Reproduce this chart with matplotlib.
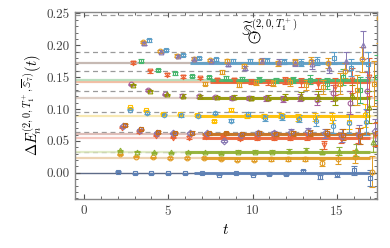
import matplotlib.pyplot as plt
import numpy as np

plt.rcParams['font.family'] = 'cmr10'
plt.rcParams['mathtext.fontset'] = 'cm'
plt.rcParams['axes.formatter.use_mathtext'] = True

# Mathematica-like palette
BLUE = '#5E81B5'
ORANGE = '#E19C24'
GREEN = '#8FB032'
RED = '#EB6235'
PURPLE = '#8778B3'
BROWN = '#C56E1A'
LBLUE = '#5D9EC7'
YELLOW = '#FFBF00'
MAGENTA = '#A5609D'
OLIVE = '#929600'
DGREEN = '#47B66D'

# --- data: effective energies per operator (t starts at t_first) ---
blue_E = [0.002, -0.001, -0.001, -0.001, -0.001, -0.001, -0.003, -0.001, -0.003, -0.002,
          -0.002, 0.003, -0.006, -0.002, 0.004, -0.008]
blue_err = [0.001, 0.001, 0.001, 0.001, 0.001, 0.001, 0.001, 0.001, 0.001, 0.002,
            0.002, 0.002, 0.003, 0.004, 0.007, 0.012]
orange_lo_E = [0.029, 0.025, 0.024, 0.023, 0.023, 0.023, 0.022, 0.020, 0.020, 0.021,
               0.022, 0.022, 0.015, 0.021, 0.025, 0.002]
orange_lo_err = [0.001, 0.001, 0.001, 0.001, 0.001, 0.001, 0.002, 0.002, 0.002, 0.002,
                 0.003, 0.003, 0.005, 0.007, 0.010, 0.025]
green_lo_E = [0.035, 0.033, 0.032, 0.032, 0.032, 0.032, 0.031, 0.033, 0.033, 0.033,
              0.034, 0.036, 0.033, 0.034, 0.036, 0.048]
green_lo_err = [0.001, 0.001, 0.001, 0.001, 0.001, 0.001, 0.002, 0.002, 0.002, 0.002,
                0.003, 0.003, 0.004, 0.006, 0.009, 0.015]
red_lo_E = [0.071, 0.064, 0.058, 0.055, 0.055, 0.056, 0.056, 0.053, 0.055, 0.055,
            0.055, 0.057, 0.044, 0.055, 0.058, 0.060]
red_lo_err = [0.001, 0.001, 0.001, 0.001, 0.002, 0.002, 0.002, 0.002, 0.003, 0.003,
              0.004, 0.005, 0.006, 0.008, 0.012, 0.018]
purple_lo_E = [0.073, 0.067, 0.063, 0.062, 0.062, 0.062, 0.050, 0.060, 0.062, 0.063,
               0.064, 0.065, 0.062, 0.058, 0.060, 0.065]
purple_lo_err = [0.001, 0.001, 0.001, 0.001, 0.002, 0.002, 0.002, 0.002, 0.003, 0.003,
                 0.004, 0.005, 0.007, 0.010, 0.015, 0.020]
brown_lo_E = [0.075, 0.068, 0.064, 0.063, 0.063, 0.062, 0.062, 0.061, 0.062, 0.061,
              0.062, 0.062, 0.063, 0.060, 0.058, 0.062]
brown_lo_err = [0.001, 0.001, 0.001, 0.001, 0.002, 0.002, 0.002, 0.002, 0.003, 0.003,
                0.004, 0.005, 0.006, 0.009, 0.013, 0.018]
yellow_E = [0.103, 0.098, 0.093, 0.092, 0.091, 0.081, 0.099, 0.089, 0.089, 0.090,
            0.087, 0.088, 0.086, 0.080, 0.090, 0.080]
yellow_err = [0.001, 0.001, 0.001, 0.001, 0.002, 0.002, 0.002, 0.003, 0.003, 0.004,
              0.005, 0.006, 0.008, 0.012, 0.018, 0.025]
lblue_mid_E = [0.099, 0.094, 0.091, 0.090, 0.089, 0.094, 0.082, 0.092, 0.086, 0.088,
               0.085, 0.082, 0.073, 0.078, 0.080, 0.090]
lblue_mid_err = [0.001, 0.001, 0.001, 0.002, 0.002, 0.002, 0.003, 0.003, 0.004, 0.005,
                 0.006, 0.008, 0.010, 0.015, 0.020, 0.030]
magenta_mid_E = [0.139, 0.130, 0.123, 0.121, 0.120, 0.119, 0.118, 0.117, 0.117, 0.116,
                 0.118, 0.115, 0.125, 0.110, 0.128]
magenta_mid_err = [0.001, 0.001, 0.001, 0.002, 0.002, 0.002, 0.003, 0.003, 0.004, 0.005,
                   0.006, 0.008, 0.012, 0.018, 0.030]
olive_mid_E = [0.138, 0.129, 0.123, 0.121, 0.120, 0.119, 0.119, 0.118, 0.118, 0.119,
               0.121, 0.120, 0.118, 0.122, 0.103]
olive_mid_err = [0.001, 0.001, 0.001, 0.002, 0.002, 0.002, 0.003, 0.003, 0.004, 0.005,
                 0.006, 0.008, 0.011, 0.016, 0.025]
red_hi_E = [0.173, 0.159, 0.154, 0.151, 0.149, 0.146, 0.145, 0.143, 0.142, 0.145,
            0.142, 0.140, 0.135, 0.145, 0.150]
red_hi_err = [0.002, 0.002, 0.002, 0.002, 0.002, 0.003, 0.003, 0.004, 0.004, 0.005,
              0.007, 0.009, 0.013, 0.020, 0.030]
green_hi_E = [0.176, 0.161, 0.156, 0.152, 0.150, 0.149, 0.147, 0.146, 0.145, 0.146,
              0.146, 0.140, 0.150, 0.130, 0.150]
green_hi_err = [0.002, 0.002, 0.002, 0.002, 0.002, 0.003, 0.003, 0.004, 0.004, 0.005,
                0.007, 0.009, 0.013, 0.020, 0.035]
orange_hi_E = [0.140, 0.158, 0.138, 0.142, 0.141, 0.142, 0.138, 0.135, 0.140, 0.130, 0.140]
orange_hi_err = [0.003, 0.003, 0.004, 0.004, 0.005, 0.006, 0.008, 0.011, 0.016, 0.024, 0.035]
orange_top_E = [0.205, 0.191, 0.184, 0.179, 0.177, 0.175, 0.168, 0.175, 0.172, 0.174,
                0.176, 0.172, 0.160, 0.178, 0.243]
orange_top_err = [0.002, 0.002, 0.002, 0.002, 0.002, 0.003, 0.003, 0.004, 0.004, 0.005,
                  0.006, 0.008, 0.012, 0.020, 0.040]
purple_top_E = [0.203, 0.190, 0.183, 0.179, 0.176, 0.170, 0.165, 0.176, 0.174, 0.172,
                0.170, 0.165, 0.175, 0.200, 0.210]
purple_top_err = [0.002, 0.002, 0.002, 0.002, 0.002, 0.003, 0.003, 0.004, 0.004, 0.005,
                  0.007, 0.009, 0.014, 0.022, 0.035]
lblue_top_E = [0.208, 0.193, 0.185, 0.180, 0.178, 0.176, 0.175, 0.176, 0.174, 0.173,
               0.175, 0.180, 0.165, 0.170, 0.190]
lblue_top_err = [0.002, 0.002, 0.002, 0.002, 0.002, 0.003, 0.003, 0.004, 0.004, 0.005,
                 0.006, 0.009, 0.013, 0.020, 0.030]

# fitted energies, fit windows
fit_E = [0.0, 0.0225, 0.033, 0.055, 0.061, 0.089, 0.118, 0.142, 0.146, 0.173]
fit_t0 = [6.5, 7.0, 6.0, 7.0, 7.0, 6.8, 6.7, 7.5, 7.5, 6.3]
fit_t1 = [17.0, 17.0, 17.0, 17.0, 17.0, 17.0, 17.0, 17.0, 17.0, 17.0]

# non-interacting levels
free_E = [0.0325, 0.064, 0.0955, 0.128, 0.159, 0.189, 0.247]

# (values, errors, first t, x-shift, colour, marker)
series = [
    (blue_E, blue_err, 2, 0.0, BLUE, 's'),
    (orange_lo_E, orange_lo_err, 2, 0.1, ORANGE, 'o'),
    (green_lo_E, green_lo_err, 2, 0.15, GREEN, '^'),
    (red_lo_E, red_lo_err, 2, 0.25, RED, 'v'),
    (purple_lo_E, purple_lo_err, 2, 0.3, PURPLE, 'D'),
    (brown_lo_E, brown_lo_err, 2, 0.4, BROWN, 's'),
    (yellow_E, yellow_err, 2, 0.7, YELLOW, 's'),
    (lblue_mid_E, lblue_mid_err, 2, 0.75, LBLUE, 'h'),
    (magenta_mid_E, magenta_mid_err, 3, -0.2, MAGENTA, 'o'),
    (olive_mid_E, olive_mid_err, 3, -0.1, OLIVE, '^'),
    (red_hi_E, red_hi_err, 3, -0.1, RED, 'v'),
    (green_hi_E, green_hi_err, 3, 0.4, DGREEN, 's'),
    (orange_hi_E, orange_hi_err, 7, 0.2, ORANGE, 's'),
    (orange_top_E, orange_top_err, 3, 0.5, ORANGE, 'o'),
    (purple_top_E, purple_top_err, 3, 0.55, PURPLE, '^'),
    (lblue_top_E, lblue_top_err, 3, 0.85, LBLUE, 's'),
]
fit_colors = ['#34466B', ORANGE, GREEN, RED, BROWN, YELLOW, OLIVE, RED, DGREEN, LBLUE]
band_colors = ['#34466B', '#E8C9A0', '#D9E6B8', '#F2B8AE', '#D9B0A8', '#F6E3A0',
               '#D6C3B8', '#F0B090', '#A8D8B0', '#B8A8A0']

fig = plt.figure(figsize=(3.9, 2.48), dpi=100)
ax = fig.add_axes([0.192, 0.198, 0.775, 0.754])

for E in free_E:
    ax.axhline(E, color='#9a9a9a', lw=0.9, ls=(0, (4, 3)), zorder=1)

for E, c in zip(fit_E, band_colors):
    ax.axhline(E, color=c, lw=1.6 if E != 0 else 1.0, alpha=0.8, zorder=1)

for E, t0, t1, c in zip(fit_E, fit_t0, fit_t1, fit_colors):
    ax.plot([t0, t1], [E, E], color=c if E != 0 else BLUE, lw=2.2, alpha=0.9,
            solid_capstyle='butt', zorder=2)

for vals, errs, tfirst, dx, c, m in series:
    t = np.arange(len(vals)) + tfirst + dx
    ax.errorbar(t, vals, yerr=errs, fmt=m, color=c, mfc='none', ms=3.4, mew=0.8,
                elinewidth=0.7, capsize=2, capthick=0.7, zorder=3)

ax.set_xlim(-0.55, 17.4)
ax.set_ylim(-0.041, 0.2525)
ax.set_xticks([0, 5, 10, 15])
ax.set_yticks([0.0, 0.05, 0.10, 0.15, 0.20, 0.25])
ax.set_yticklabels(['0.00', '0.05', '0.10', '0.15', '0.20', '0.25'])
ax.set_xticks(np.arange(0, 18, 1), minor=True)
ax.set_yticks(np.arange(-0.04, 0.26, 0.01), minor=True)
ax.tick_params(which='both', direction='in', top=True, right=True, colors='#555555',
               labelsize=9.5, labelcolor='#444444')
ax.tick_params(which='major', length=3.5)
ax.tick_params(which='minor', length=2)
for s in ax.spines.values():
    s.set_color('#888888')
    s.set_linewidth(1.0)

ax.set_xlabel(r'$t$', fontsize=11)
ax.set_ylabel(r'$\Delta E_n^{(2,0,T_1^+,\overline{\mathbb{S}}_7)}(t)$', fontsize=10.5, labelpad=2)

# operator label; the subscript 7 gets a circle drawn around it
ax.text(9.3, 0.2145, r'$\widetilde{\mathbb{S}}^{(2,0,T_1^+)}_{7}$', fontsize=11,
        va='baseline', ha='left', zorder=5)
ax.plot([10.1], [0.2125], marker='o', ms=8, mfc='none', mec='black', mew=0.6,
        ls='none', zorder=5)

fig.savefig('out.png', dpi=100)
